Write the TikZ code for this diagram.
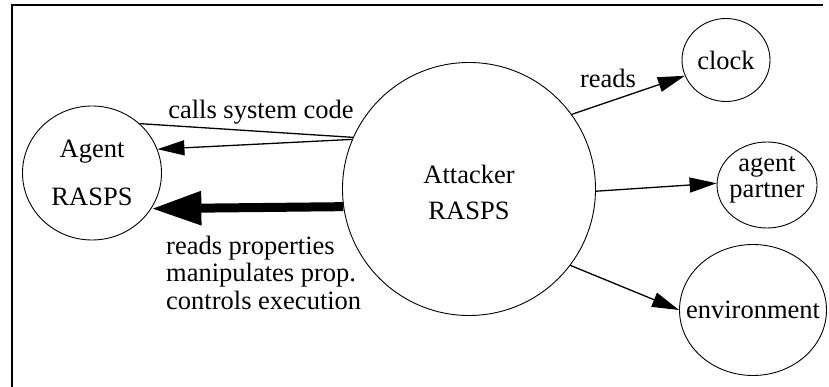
\documentclass[tikz,border=0pt]{standalone}
\usepackage{fontspec}
\setmainfont{Liberation Serif}
\usetikzlibrary{arrows.meta,shapes.geometric}

\begin{document}
\begin{tikzpicture}[x=1pt, y=1pt,
  every node/.style={font=\fontsize{26.5}{26.5}\selectfont},
  blob/.style={draw, ellipse, line width=0.9pt, inner sep=0pt},
  tag/.style={align=center, inner sep=0pt},
  flow/.style={line width=1.3pt, -{Triangle[length=27pt, width=15pt]}},
  heavy/.style={line width=9pt, -{Triangle[length=50pt, width=32pt]}}]
	\useasboundingbox (0,0) rectangle (829,387);
	% frame, open at the bottom and on the right
	\draw[line width=2pt] (12,0) -- (12,382) -- (823,382);
	% the processes
	\node[blob, minimum width=139, minimum height=134, label={[tag]center:Agent\\[21.5pt]RASPS}] (agent) at (92,214) {};
	\node[blob, minimum width=253, minimum height=253, label={[tag, yshift=-3]center:Attacker\\[9.5pt]RASPS}] (att) at (469,198) {};
	\node[blob, minimum width=88, minimum height=83, label={[tag]center:clock}] (clock) at (726,327) {};
	\node[blob, minimum width=100, minimum height=86, label={[tag, yshift=5]center:agent\\partner}] (partner) at (767,202) {};
	\node[blob, minimum width=147, minimum height=131, label={[tag]center:environment}] (env) at (753,77) {};
	% edge labels
	\node[tag] (callslbl) at (261,275) {calls system code};
	\node[tag] (readslbl) at (608,309) {reads};
	\node[tag, align=left, anchor=west, font=\fontsize{26.5}{27.5}\selectfont] (ctrllbl) at (166,114.5) {reads properties\\manipulates prop.\\controls execution};
	% connectors
	\draw[line width=1.3pt] (agent.46) -- (att.156);
	\draw[flow] (att.157) -- (agent.20);
	\draw[heavy] (att.188.6) -- (agent.-31);
	\draw[flow] (att.36.4) -- (clock.201);
	\draw[flow] (att.-1.4) -- (partner.178);
	\draw[flow] (att.-37.3) -- (env.180);
\end{tikzpicture}
\end{document}
